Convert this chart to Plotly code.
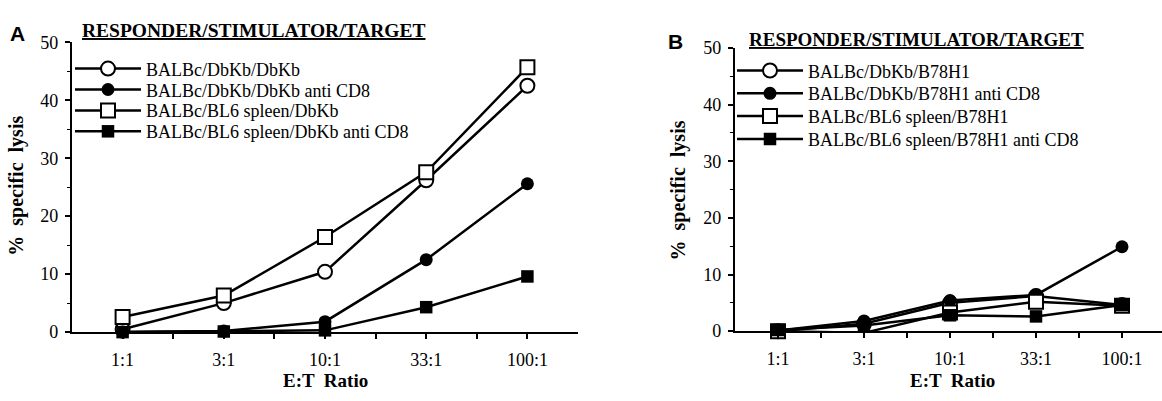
import plotly.graph_objects as go

# ---------------- data ----------------
categories = ["1:1", "3:1", "10:1", "33:1", "100:1"]
y_ticks = [0, 10, 20, 30, 40, 50]

a_names = ["BALBc/DbKb/DbKb", "BALBc/DbKb/DbKb anti CD8",
           "BALBc/BL6 spleen/DbKb", "BALBc/BL6 spleen/DbKb anti CD8"]
a_open_circle = [0.5, 5.0, 10.4, 26.2, 42.5]
a_filled_circle = [0.0, 0.2, 1.8, 12.5, 25.6]
a_open_square = [2.6, 6.3, 16.4, 27.6, 45.7]
a_filled_square = [0.0, 0.1, 0.3, 4.3, 9.6]

b_names = ["BALBc/DbKb/B78H1", "BALBc/DbKb/B78H1 anti CD8",
           "BALBc/BL6 spleen/B78H1", "BALBc/BL6 spleen/B78H1 anti CD8"]
b_open_circle = [0.0, 1.3, 5.0, 6.2, 4.6]
b_filled_circle = [0.1, 1.8, 5.4, 6.4, 14.9]
b_open_square = [0.0, -0.3, 3.3, 5.2, 4.5]
b_filled_square = [0.2, 1.0, 2.8, 2.6, 4.6]

legend_title = "RESPONDER/STIMULATOR/TARGET"
y_title = "%  specific  lysis"
x_title = "E:T  Ratio"

# ---------------- figure ----------------
W, H = 1162, 401
SERIF = "Liberation Serif"
xpos = list(range(len(categories)))


def px_x(p):
    return p / W


def px_y(p):
    return 1 - p / H


fig = go.Figure()

styles = [("circle", False, 14), ("circle", True, 13), ("square", False, 14), ("square", True, 12.5)]
legend_keys_a = ["legend", "legend2", "legend3", "legend4"]
legend_keys_b = ["legend5", "legend6", "legend7", "legend8"]


def add_series(vals, name, style, xa, ya, legend):
    symbol, filled, size = style
    fig.add_trace(go.Scatter(
        x=xpos, y=vals, name=name, mode="lines+markers",
        xaxis=xa, yaxis=ya, legend=legend, cliponaxis=False,
        line=dict(color="black", width=2.5),
        marker=dict(symbol=symbol, size=size,
                    color="black" if filled else "white",
                    line=dict(color="black", width=0 if filled else 2)),
    ))


for vals, name, st, lg in zip([a_open_circle, a_filled_circle, a_open_square, a_filled_square],
                              a_names, styles, legend_keys_a):
    add_series(vals, name, st, "x", "y", lg)
for vals, name, st, lg in zip([b_open_circle, b_filled_circle, b_open_square, b_filled_square],
                              b_names, styles, legend_keys_b):
    add_series(vals, name, st, "x2", "y2", lg)

tickfont = dict(family=SERIF, size=18, color="black")
xaxis_common = dict(
    tickmode="array", tickvals=xpos, ticktext=categories,
    ticks="outside", ticklen=5, tickwidth=1.5, tickcolor="black",
    showline=True, linewidth=2.2, linecolor="black",
    showgrid=False, zeroline=False, tickfont=tickfont, ticklabelstandoff=5,
    minor=dict(tickmode="array", tickvals=[v + 0.5 for v in xpos[:-1]],
               ticks="outside", ticklen=5, tickwidth=1.5, tickcolor="black"),
)
yaxis_common = dict(
    range=[0, 50], tickmode="array", tickvals=y_ticks,
    ticks="outside", ticklen=5, tickwidth=1.5, tickcolor="black",
    showline=True, linewidth=2.2, linecolor="black",
    showgrid=False, zeroline=False, tickfont=tickfont, ticklabelstandoff=3,
    minor=dict(dtick=5, ticks="outside", ticklen=3, tickwidth=1.2, tickcolor="black"),
)

legend_common = dict(
    xanchor="left", yanchor="middle", bgcolor="rgba(0,0,0,0)",
    font=dict(family=SERIF, size=18, color="black"),
    itemwidth=66, borderwidth=0,
)

layout_legends = {}
for key, yc in zip(legend_keys_a, [62, 84, 106, 128]):
    layout_legends[key] = dict(x=px_x(70), y=px_y(yc), **legend_common)
for key, yc in zip(legend_keys_b, [64, 88, 112, 136]):
    layout_legends[key] = dict(x=px_x(732), y=px_y(yc), **legend_common)

fig.update_layout(
    width=W, height=H, margin=dict(l=0, r=0, t=0, b=0),
    paper_bgcolor="white", plot_bgcolor="white",
    xaxis=dict(domain=[px_x(72), px_x(578)], range=[-0.5, 4.5], anchor="y", **xaxis_common),
    yaxis=dict(domain=[px_y(339), px_y(34)], anchor="x", **yaxis_common),
    xaxis2=dict(domain=[px_x(735), 1.0], range=[-0.5, 4.465], anchor="y2", **xaxis_common),
    yaxis2=dict(domain=[px_y(338), px_y(40)], anchor="x2", **yaxis_common),
    showlegend=True,
    **layout_legends,
)

ytitle_font = dict(family=SERIF, size=20, color="black")
xtitle_font = dict(family=SERIF, size=19, color="black")
annotations = [
    dict(text="<b>A</b>", x=px_x(17), y=px_y(25), font=dict(family="Liberation Sans", size=21, color="black")),
    dict(text="<b>B</b>", x=px_x(675), y=px_y(33), font=dict(family="Liberation Sans", size=21, color="black")),
    dict(text="<b><u>" + legend_title + "</u></b>", x=px_x(80), y=px_y(22), xanchor="left",
         font=dict(family=SERIF, size=19.5, color="black")),
    dict(text="<b><u>" + legend_title + "</u></b>", x=px_x(747), y=px_y(31), xanchor="left",
         font=dict(family=SERIF, size=19, color="black")),
    dict(text="<b>" + y_title + "</b>", x=px_x(17), y=px_y(185), textangle=-90, font=ytitle_font),
    dict(text="<b>" + y_title + "</b>", x=px_x(679), y=px_y(190), textangle=-90, font=ytitle_font),
    dict(text="<b>" + x_title + "</b>", x=px_x(325), y=px_y(390), font=xtitle_font),
    dict(text="<b>" + x_title + "</b>", x=px_x(952), y=px_y(390), font=xtitle_font),
]
for a in annotations:
    a.update(xref="paper", yref="paper", showarrow=False)
    a.setdefault("xanchor", "center")
    a.setdefault("yanchor", "middle")
fig.update_layout(annotations=annotations)

fig.write_html("out.html", config={"displayModeBar": False},
               post_script="document.body.style.margin='0';document.body.style.overflow='hidden';")
